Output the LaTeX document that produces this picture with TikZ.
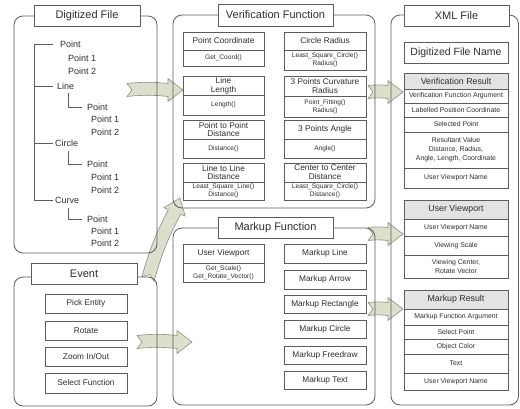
\documentclass[tikz,border=0pt]{standalone}
\usepackage{fontspec}
\setmainfont{Liberation Sans}
\usetikzlibrary{calc}

\definecolor{inkgray}{HTML}{5C5C5C}
\definecolor{txtgray}{HTML}{2E2E2E}
\definecolor{headfill}{HTML}{E3E3E3}
\definecolor{flowfill}{HTML}{DCDFCB}
\definecolor{flowline}{HTML}{8E8E86}

\newcommand\fsPanel{\fontsize{11}{12}\selectfont}
\newcommand\fsTree{\fontsize{9}{10}\selectfont}
\newcommand\fsCell{\fontsize{8.3}{8.8}\selectfont}
\newcommand\fsFunc{\fontsize{6.6}{7.6}\selectfont}
\newcommand\fsHead{\fontsize{8.8}{9.5}\selectfont}
\newcommand\fsName{\fontsize{10.5}{11}\selectfont}
\newcommand\fsRow{\fontsize{6.9}{9}\selectfont}

% rectangle node given by its top-left and bottom-right corners
\newcommand\cellat[6][]{\node[cell,#1,minimum width={(#5-#3)*1pt},minimum height={(#6-#4)*1pt}] (#2) at ({(#3+#5)/2},{(#4+#6)/2})}

\tikzset{
  panel/.style={draw=inkgray, line width=0.8pt, rounded corners=9pt},
  cell/.style={draw=inkgray, line width=0.7pt, fill=white, inner sep=0pt, align=center, text=txtgray},
  paneltitle/.style={cell, line width=0.8pt, font=\fsPanel},
  headcell/.style={fill=headfill, font=\fsHead},
  rowcell/.style={font=\fsRow},
  treelabel/.style={anchor=west, inner sep=0pt, font=\fsTree, text=txtgray},
  treeline/.style={draw=inkgray, line width=0.7pt},
  % notched block arrow, slightly bowed, of length #1 along the local x axis
  pics/blockarrow/.style={code={
    \pgfmathsetmacro\arrlen{#1}
    \filldraw[fill=flowfill, draw=flowline, line width=0.6pt, line join=round]
      (0,-6.5) to[bend left=6] (\arrlen-15,-6.5) -- (\arrlen-15,-11.5) -- (\arrlen,0)
      -- (\arrlen-15,11.5) -- (\arrlen-15,6.5) to[bend right=6] (0,6.5) -- (5,0) -- cycle;
  }}
}
% block arrow from one named point to another
\newcommand\flowarrow[2]{\path let \p1=($(#2)-(#1)$), \n1={veclen(\x1,\y1)}, \n2={atan2(\y1,\x1)} in (#1) pic[rotate=\n2] {blockarrow=\n1};}

\begin{document}
\begin{tikzpicture}[x=1pt,y=-1pt]
\fill[white] (0,0) rectangle (520,408);
\useasboundingbox (0,0) rectangle (520,408);

% ---------- XML side tables ----------
\cellat[font=\fsName]{dfName}{404}{42}{508}{63} {Digitized File Name};

\cellat[headcell]{vrHead}{404}{73}{508}{89} {Verification Result};
\cellat[rowcell]{vr1}{404}{89}{508}{103} {Verification Function Argument};
\cellat[rowcell]{vr2}{404}{103}{508}{117} {Labelled Position Coordinate};
\cellat[rowcell]{vr3}{404}{117}{508}{132} {Selected Point};
\cellat[rowcell]{vr4}{404}{132}{508}{168} {Resultant Value\\Distance, Radius,\\Angle, Length, Coordinate};
\cellat[rowcell]{vr5}{404}{168}{508}{188} {User Viewport Name};

\cellat[headcell]{uvHead}{404}{200}{508}{219} {User Viewport};
\cellat[rowcell]{uv1}{404}{219}{508}{236} {User Viewport Name};
\cellat[rowcell]{uv2}{404}{236}{508}{255} {Viewing Scale};
\cellat[rowcell]{uv3}{404}{255}{508}{278} {Viewing Center,\\Rotate Vector};

\cellat[headcell]{mrHead}{404}{290}{508}{309} {Markup Result};
\cellat[rowcell]{mr1}{404}{309}{508}{325} {Markup Function Argument};
\cellat[rowcell]{mr2}{404}{325}{508}{339} {Select Point};
\cellat[rowcell]{mr3}{404}{339}{508}{354} {Object Color};
\cellat[rowcell]{mr4}{404}{354}{508}{373} {Text};
\cellat[rowcell]{mr5}{404}{373}{508}{390} {User Viewport Name};

% ---------- block arrows (behind the panel outlines) ----------
\coordinate (fileOut) at (127,90);
\coordinate (verIn) at (183,90);
\coordinate (eventUp) at (148,279);
\coordinate (verLow) at (180,198);
\coordinate (eventOut) at (137,342);
\coordinate (markIn) at (192,342);
\coordinate (verOut) at (368,92);
\coordinate (vrIn) at (403,92);
\coordinate (markOutA) at (368,234);
\coordinate (uvIn) at (403,234);
\coordinate (markOutB) at (368,309);
\coordinate (mrIn) at (403,309);

\flowarrow{fileOut}{verIn}
\flowarrow{eventUp}{verLow}
\flowarrow{eventOut}{markIn}
\flowarrow{verOut}{vrIn}
\flowarrow{markOutA}{uvIn}
\flowarrow{markOutB}{mrIn}

% ---------- panels ----------
\draw[panel] (14,16) rectangle (157,253);
\draw[panel] (14,277) rectangle (157,406);
\draw[panel] (173,15) rectangle (375,208);
\draw[panel] (173,228) rectangle (375,405);
\draw[panel] (391,15) rectangle (518.5,405);

\cellat[paneltitle]{xmlTitle}{404}{5}{509}{26} {XML File};

% ---------- Digitized File ----------
\cellat[paneltitle]{dfTitle}{34}{5}{140}{26} {Digitized File};

\coordinate (trunk) at (34,0);
\node[treelabel] (dPoint) at (60,44) {Point};
\node[treelabel] (dPointA) at (68,58.5) {Point 1};
\node[treelabel] (dPointB) at (68,71.5) {Point 2};
\node[treelabel] (dLine) at (57,86) {Line};
\node[treelabel] (lPoint) at (87,107) {Point};
\node[treelabel] (lPointA) at (91,119.5) {Point 1};
\node[treelabel] (lPointB) at (91,132) {Point 2};
\node[treelabel] (dCircle) at (55,143.5) {Circle};
\node[treelabel] (cPoint) at (87,164) {Point};
\node[treelabel] (cPointA) at (91,177) {Point 1};
\node[treelabel] (cPointB) at (91,190) {Point 2};
\node[treelabel] (dCurve) at (55,200) {Curve};
\node[treelabel] (vPoint) at (87,219) {Point};
\node[treelabel] (vPointA) at (91,231) {Point 1};
\node[treelabel] (vPointB) at (91,243) {Point 2};

\coordinate (lineStem) at (68,93);
\coordinate (circleStem) at (68,151);
\coordinate (curveStem) at (68,208);

\draw[treeline] ([xshift=-7pt]dPoint.west) -| (trunk |- dCurve.west) -- ([xshift=-2pt]dCurve.west);
\draw[treeline] (trunk |- dLine.west) -- ([xshift=-4pt]dLine.west);
\draw[treeline] (trunk |- dCircle.west) -- ([xshift=-2pt]dCircle.west);
\draw[treeline] (lineStem) |- ([xshift=-5pt]lPoint.west);
\draw[treeline] (circleStem) |- ([xshift=-5pt]cPoint.west);
\draw[treeline] (curveStem) |- ([xshift=-5pt]vPoint.west);

% ---------- Event ----------
\cellat[paneltitle]{evTitle}{31}{263}{137}{284} {Event};
\cellat[font=\fsCell]{evPick}{45}{294}{127}{313} {Pick Entity};
\cellat[font=\fsCell]{evRot}{45}{321}{127}{340} {Rotate};
\cellat[font=\fsCell]{evZoom}{45}{347}{127}{366} {Zoom In/Out};
\cellat[font=\fsCell]{evSel}{45}{373}{127}{393} {Select Function};

% ---------- Verification Function ----------
\cellat[paneltitle]{vfTitle}{218}{4}{333}{26} {Verification Function};
\cellat[font=\fsCell]{pcT}{183}{32}{264}{50} {Point Coordinate};
\cellat[font=\fsFunc]{pcF}{183}{50}{264}{66} {Get\_Coord()};
\cellat[font=\fsCell]{crT}{284}{32}{366}{50} {Circle Radius};
\cellat[font=\fsFunc]{crF}{284}{50}{366}{70} {Least\_Square\_Circle()\\Radius()};
\cellat[font=\fsCell]{llT}{183}{76}{264}{95} {Line\\Length};
\cellat[font=\fsFunc]{llF}{183}{95}{264}{115} {Length()};
\cellat[font=\fsCell]{cvT}{284}{76}{366}{96} {3 Points Curvature\\Radius};
\cellat[font=\fsFunc]{cvF}{284}{96}{366}{117} {Point\_Fitting()\\Radius()};
\cellat[font=\fsCell]{ppT}{183}{120}{264}{139} {Point to Point\\Distance};
\cellat[font=\fsFunc]{ppF}{183}{139}{264}{158} {Distance()};
\cellat[font=\fsCell]{anT}{284}{120}{366}{139} {3 Points Angle};
\cellat[font=\fsFunc]{anF}{284}{139}{366}{158} {Angle()};
\cellat[font=\fsCell]{lnT}{183}{163}{264}{182} {Line to Line\\Distance};
\cellat[font=\fsFunc]{lnF}{183}{182}{264}{200} {Least\_Square\_Line()\\Distance()};
\cellat[font=\fsCell]{ccT}{284}{163}{366}{182} {Center to Center\\Distance};
\cellat[font=\fsFunc]{ccF}{284}{182}{366}{200} {Least\_Square\_Circle()\\Distance()};

% ---------- Markup Function ----------
\cellat[paneltitle]{mfTitle}{218}{217}{333}{238} {Markup Function};
\cellat[font=\fsCell]{uvT}{183}{244}{264}{263} {User Viewport};
\cellat[font=\fsFunc]{uvF}{183}{263}{264}{282} {Get\_Scale()\\Get\_Rotate\_Vector()};
\cellat[font=\fsCell]{mkLine}{284}{244}{366}{263} {Markup Line};
\cellat[font=\fsCell]{mkArrow}{284}{270}{366}{289} {Markup Arrow};
\cellat[font=\fsCell]{mkRect}{284}{295}{366}{313} {Markup Rectangle};
\cellat[font=\fsCell]{mkCircle}{284}{320}{366}{338} {Markup Circle};
\cellat[font=\fsCell]{mkFree}{284}{346}{366}{364} {Markup Freedraw};
\cellat[font=\fsCell]{mkText}{284}{371}{366}{389} {Markup Text};
\end{tikzpicture}
\end{document}
